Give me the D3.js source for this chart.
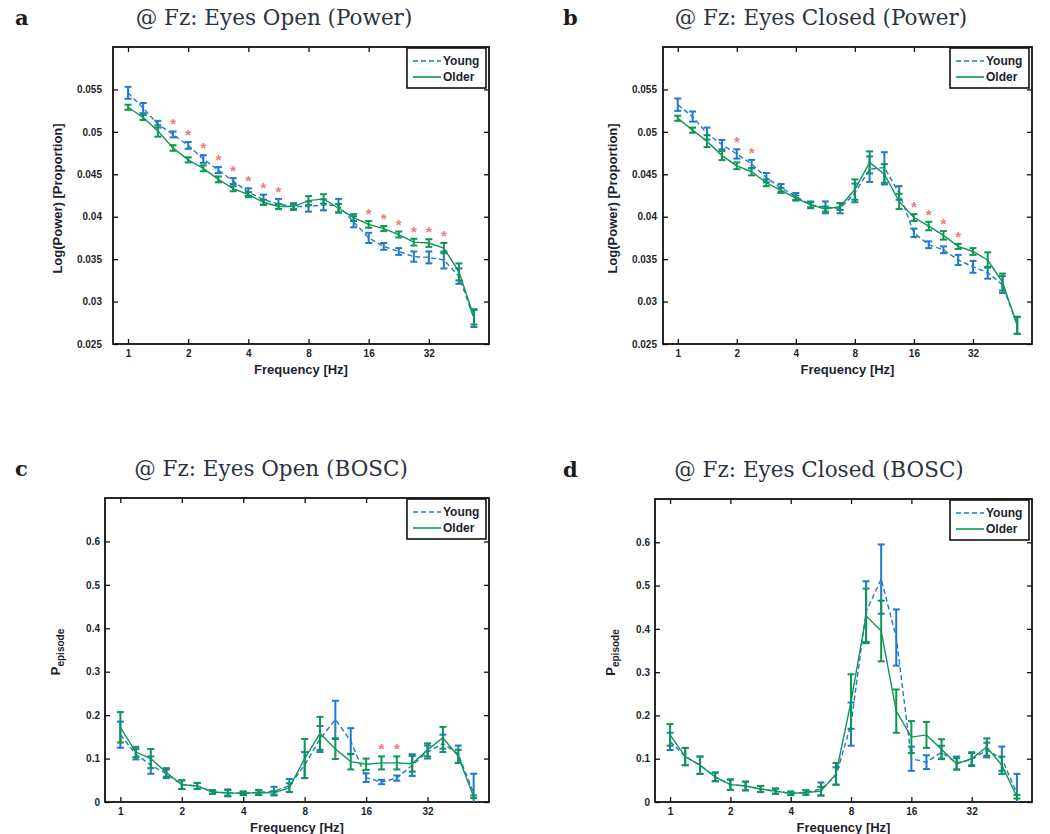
<!DOCTYPE html>
<html><head><meta charset="utf-8">
<script src="https://cdn.jsdelivr.net/npm/d3@7"></script>
<style>body{margin:0;background:#fff}</style>
</head><body><svg id="chart" width="1050" height="834"></svg>
<script>
// ---------- data ----------
const freqs = [1, 1.19, 1.41, 1.68, 2, 2.38, 2.83, 3.36, 4, 4.76, 5.66, 6.73, 8, 9.51, 11.31, 13.45, 16, 19.03, 22.63, 26.91, 32, 38.05, 45.25, 53.82];
const freqTicks = [1, 2, 4, 8, 16, 32];
const freqTickLabels = ["1", "2", "4", "8", "16", "32"];
const powerTicks = [0.025, 0.03, 0.035, 0.04, 0.045, 0.05, 0.055];
const powerTickLabels = ["0.025", "0.03", "0.035", "0.04", "0.045", "0.05", "0.055"];
const boscTicks = [0, 0.1, 0.2, 0.3, 0.4, 0.5, 0.6];
const boscTickLabels = ["0", "0.1", "0.2", "0.3", "0.4", "0.5", "0.6"];
const seriesNames = ["Young", "Older"];

// a: Eyes Open (Power)
const openPowerYoung = [0.0546, 0.0528, 0.0509, 0.0497, 0.0484, 0.0468, 0.0455, 0.0442, 0.0429, 0.0420, 0.0415, 0.0412, 0.0412, 0.0414, 0.0413, 0.0394, 0.0375, 0.0365, 0.0359, 0.0353, 0.0352, 0.0349, 0.0330, 0.0280];
const openPowerYoungErr = [0.0007, 0.0006, 0.0004, 0.00035, 0.0004, 0.00045, 0.00035, 0.00035, 0.00045, 0.0006, 0.0006, 0.0004, 0.0006, 0.00065, 0.0008, 0.00065, 0.0006, 0.0004, 0.0004, 0.0006, 0.0007, 0.001, 0.0009, 0.001];
const openPowerOlder = [0.0529, 0.0517, 0.0501, 0.0481, 0.0467, 0.0457, 0.0444, 0.0433, 0.0426, 0.0417, 0.0412, 0.0412, 0.0419, 0.0421, 0.0410, 0.0399, 0.0391, 0.0386, 0.0379, 0.0370, 0.0369, 0.0363, 0.0335, 0.0282];
const openPowerOlderErr = [0.0003, 0.0003, 0.00067, 0.00033, 0.0003, 0.00035, 0.00035, 0.0003, 0.0003, 0.0003, 0.0003, 0.0003, 0.00053, 0.00055, 0.0005, 0.0004, 0.0004, 0.0003, 0.00035, 0.0004, 0.00045, 0.0006, 0.001, 0.0009];
const openPowerSig = [3, 4, 5, 6, 7, 8, 9, 10, 16, 17, 18, 19, 20, 21];

// b: Eyes Closed (Power)
const closedPowerYoung = [0.0532, 0.0518, 0.0498, 0.0485, 0.0474, 0.0462, 0.0446, 0.0434, 0.0424, 0.0414, 0.0411, 0.0410, 0.0428, 0.0456, 0.0458, 0.0428, 0.0381, 0.0367, 0.0361, 0.0349, 0.0341, 0.0334, 0.0320, 0.0272];
const closedPowerYoungErr = [0.00073, 0.0006, 0.0007, 0.00055, 0.00055, 0.0005, 0.00055, 0.00045, 0.0004, 0.0004, 0.0007, 0.0006, 0.0011, 0.0015, 0.0018, 0.0008, 0.0005, 0.0004, 0.0004, 0.0006, 0.0007, 0.0007, 0.001, 0.001];
const closedPowerOlder = [0.0516, 0.0502, 0.0489, 0.0472, 0.0460, 0.0453, 0.0440, 0.0431, 0.0422, 0.0414, 0.0409, 0.0412, 0.0432, 0.0464, 0.0450, 0.0418, 0.0399, 0.0389, 0.0378, 0.0365, 0.0359, 0.0349, 0.0323, 0.0272];
const closedPowerOlderErr = [0.0003, 0.0003, 0.0007, 0.00053, 0.0004, 0.00043, 0.0004, 0.0003, 0.0003, 0.0003, 0.0003, 0.0004, 0.0012, 0.0013, 0.0012, 0.0009, 0.0004, 0.0005, 0.0005, 0.0003, 0.0004, 0.0009, 0.001, 0.001];
const closedPowerSig = [4, 5, 16, 17, 18, 19];

// c: Eyes Open (BOSC)
const openBoscYoung = [0.155, 0.110, 0.085, 0.065, 0.040, 0.037, 0.023, 0.021, 0.020, 0.022, 0.025, 0.038, 0.085, 0.145, 0.190, 0.140, 0.056, 0.046, 0.055, 0.085, 0.115, 0.135, 0.110, 0.020];
const openBoscYoungErr = [0.03, 0.012, 0.02, 0.01, 0.01, 0.007, 0.004, 0.008, 0.004, 0.006, 0.01, 0.015, 0.03, 0.03, 0.043, 0.03, 0.01, 0.005, 0.006, 0.025, 0.015, 0.02, 0.02, 0.045];
const openBoscOlder = [0.172, 0.115, 0.100, 0.068, 0.040, 0.037, 0.023, 0.021, 0.020, 0.022, 0.021, 0.033, 0.100, 0.158, 0.122, 0.093, 0.087, 0.090, 0.090, 0.088, 0.120, 0.148, 0.105, 0.012];
const openBoscOlderErr = [0.035, 0.012, 0.022, 0.01, 0.01, 0.007, 0.004, 0.006, 0.004, 0.005, 0.004, 0.01, 0.045, 0.038, 0.023, 0.018, 0.013, 0.015, 0.015, 0.018, 0.015, 0.025, 0.015, 0.003];
const openBoscSig = [17, 18];

// d: Eyes Closed (BOSC)
const closedBoscYoung = [0.140, 0.105, 0.085, 0.058, 0.040, 0.037, 0.030, 0.025, 0.020, 0.022, 0.030, 0.060, 0.180, 0.440, 0.515, 0.380, 0.100, 0.092, 0.115, 0.090, 0.098, 0.120, 0.100, 0.020];
const closedBoscYoungErr = [0.02, 0.02, 0.02, 0.01, 0.012, 0.01, 0.007, 0.006, 0.004, 0.005, 0.015, 0.02, 0.05, 0.07, 0.08, 0.065, 0.028, 0.016, 0.015, 0.015, 0.015, 0.017, 0.028, 0.045];
const closedBoscOlder = [0.155, 0.105, 0.085, 0.058, 0.040, 0.037, 0.030, 0.025, 0.020, 0.022, 0.025, 0.065, 0.232, 0.430, 0.395, 0.210, 0.150, 0.155, 0.122, 0.088, 0.100, 0.127, 0.085, 0.012];
const closedBoscOlderErr = [0.025, 0.02, 0.02, 0.01, 0.012, 0.01, 0.007, 0.006, 0.004, 0.005, 0.01, 0.025, 0.063, 0.063, 0.07, 0.05, 0.037, 0.03, 0.023, 0.013, 0.015, 0.02, 0.02, 0.004];
const closedBoscSig = [];

// ---------- layout / style ----------
const colYoung = "#1f78d1";
const colOlder = "#0f9652";
const colSig = "#f37a7a";
const textCol = "#1c1f2e";

const panels = [
  {letter: "a", title: "@ Fz: Eyes Open (Power)", box: [113, 47, 489, 344], titleX: 274, letterX: 15, yDomain: [0.025, 0.06], yTicks: powerTicks, yLabels: powerTickLabels,
   young: openPowerYoung, youngErr: openPowerYoungErr, older: openPowerOlder, olderErr: openPowerOlderErr, sig: openPowerSig, ylab: "power", ylabX: 62, tickGap: 11},
  {letter: "b", title: "@ Fz: Eyes Closed (Power)", box: [663, 47, 1032, 344], titleX: 821, letterX: 563, yDomain: [0.025, 0.06], yTicks: powerTicks, yLabels: powerTickLabels,
   young: closedPowerYoung, youngErr: closedPowerYoungErr, older: closedPowerOlder, olderErr: closedPowerOlderErr, sig: closedPowerSig, ylab: "power", ylabX: 617, tickGap: 6},
  {letter: "c", title: "@ Fz: Eyes Open (BOSC)", box: [105, 498, 489, 802], titleX: 271, letterX: 15, yDomain: [0, 0.7], yTicks: boscTicks, yLabels: boscTickLabels,
   young: openBoscYoung, youngErr: openBoscYoungErr, older: openBoscOlder, olderErr: openBoscOlderErr, sig: openBoscSig, ylab: "bosc", ylabX: 64, tickGap: 5},
  {letter: "d", title: "@ Fz: Eyes Closed (BOSC)", box: [655, 499, 1032, 802], titleX: 819, letterX: 563, yDomain: [0, 0.7], yTicks: boscTicks, yLabels: boscTickLabels,
   young: closedBoscYoung, youngErr: closedBoscYoungErr, older: closedBoscOlder, olderErr: closedBoscOlderErr, sig: closedBoscSig, ylab: "bosc", ylabX: 619, tickGap: 5}
];

const svg = d3.select("#chart");
const sansFont = "'Liberation Sans', Arial, sans-serif";

panels.forEach((p, pi) => {
  const [x0, y0, x1, y1] = p.box;
  const x = d3.scaleLog().base(2).domain([Math.pow(2, -0.25), 64]).range([x0, x1]);
  const y = d3.scaleLinear().domain(p.yDomain).range([y1, y0]);
  const g = svg.append("g");

  // title and letter
  g.append("text").attr("x", p.titleX).attr("y", y0 - 22).attr("text-anchor", "middle")
    .attr("font-family", "'DejaVu Serif', serif").attr("font-size", 21.5).attr("fill", "#2b3340").text(p.title);
  g.append("text").attr("x", p.letterX).attr("y", y0 - 22)
    .attr("font-family", "'DejaVu Serif', serif").attr("font-weight", "bold").attr("font-size", 21).attr("fill", "#1a1a1a").text(p.letter);

  // clip
  const clipId = "clip" + pi;
  svg.append("clipPath").attr("id", clipId).append("rect").attr("x", x0).attr("y", y0).attr("width", x1 - x0).attr("height", y1 - y0);

  // axes
  const axB = g.append("g").attr("transform", `translate(0,${y1})`)
    .call(d3.axisBottom(x).tickValues(freqTicks).tickFormat((d, i) => freqTickLabels[i]).tickSizeInner(-5).tickSizeOuter(0).tickPadding(6));
  const axT = g.append("g").attr("transform", `translate(0,${y0})`)
    .call(d3.axisTop(x).tickValues(freqTicks).tickFormat("").tickSizeInner(-5).tickSizeOuter(0));
  const axL = g.append("g").attr("transform", `translate(${x0},0)`)
    .call(d3.axisLeft(y).tickValues(p.yTicks).tickFormat((d, i) => p.yLabels[i]).tickSizeInner(-5).tickSizeOuter(0).tickPadding(p.tickGap));
  const axR = g.append("g").attr("transform", `translate(${x1},0)`)
    .call(d3.axisRight(y).tickValues(p.yTicks).tickFormat("").tickSizeInner(-5).tickSizeOuter(0));
  [axB, axT, axL, axR].forEach(a => {
    a.select(".domain").remove();
    a.selectAll(".tick line").attr("stroke", "#111").attr("stroke-width", 1.3);
    a.selectAll(".tick text").attr("font-family", sansFont).attr("font-weight", "bold").attr("font-size", 10).attr("fill", textCol);
  });

  // frame
  g.append("rect").attr("x", x0).attr("y", y0).attr("width", x1 - x0).attr("height", y1 - y0)
    .attr("fill", "none").attr("stroke", "#111").attr("stroke-width", 1.8);

  // axis labels
  g.append("text").attr("x", (x0 + x1) / 2).attr("y", y1 + 30).attr("text-anchor", "middle")
    .attr("font-family", sansFont).attr("font-weight", "bold").attr("font-size", 13).attr("fill", textCol).text("Frequency [Hz]");
  const yc = (y0 + y1) / 2;
  if (p.ylab === "power") {
    g.append("text").attr("transform", `translate(${p.ylabX},${yc + 3}) rotate(-90)`).attr("text-anchor", "middle")
      .attr("font-family", sansFont).attr("font-weight", "bold").attr("font-size", 13).attr("fill", textCol).text("Log(Power) [Proportion]");
  } else {
    const t = g.append("text").attr("transform", `translate(${p.ylabX - 4},${yc + 2}) rotate(-90)`).attr("text-anchor", "middle")
      .attr("font-family", sansFont).attr("font-weight", "bold").attr("fill", textCol);
    t.append("tspan").attr("font-size", 13).text("P");
    t.append("tspan").attr("font-size", 10).attr("dy", 4).text("episode");
  }

  // data
  const plot = g.append("g").attr("clip-path", `url(#${clipId})`);
  const series = [
    {vals: p.young, errs: p.youngErr, color: colYoung, dash: "5,3"},
    {vals: p.older, errs: p.olderErr, color: colOlder, dash: null}
  ];
  series.forEach(s => {
    const line = d3.line().x((d, i) => x(freqs[i])).y(d => y(d));
    plot.append("path").datum(s.vals).attr("d", line).attr("fill", "none")
      .attr("stroke", s.color).attr("stroke-width", 1.4).attr("stroke-dasharray", s.dash);
    const eb = plot.append("g").attr("stroke", s.color).attr("stroke-width", 2).attr("fill", "none");
    s.vals.forEach((v, i) => {
      const cx = x(freqs[i]);
      const yt = y(v + s.errs[i]), yb = y(v - s.errs[i]);
      eb.append("line").attr("x1", cx).attr("x2", cx).attr("y1", yt).attr("y2", yb);
      eb.append("line").attr("x1", cx - 3.5).attr("x2", cx + 3.5).attr("y1", yt).attr("y2", yt);
      eb.append("line").attr("x1", cx - 3.5).attr("x2", cx + 3.5).attr("y1", yb).attr("y2", yb);
    });
  });

  // significance markers
  p.sig.forEach(i => {
    const top = Math.max(p.young[i] + p.youngErr[i], p.older[i] + p.olderErr[i]);
    g.append("text").attr("x", x(freqs[i])).attr("y", y(top) - 2).attr("text-anchor", "middle")
      .attr("font-family", sansFont).attr("font-weight", "bold").attr("font-size", 15).attr("fill", colSig).text("*");
  });

  // legend
  const lx0 = x1 - 82, ly0 = y0 + 1, lw = 79, lh = 40;
  const lg = g.append("g");
  lg.append("rect").attr("x", lx0).attr("y", ly0).attr("width", lw).attr("height", lh)
    .attr("fill", "#fff").attr("stroke", "#111").attr("stroke-width", 1.6);
  seriesNames.forEach((name, j) => {
    const ly = ly0 + 13 + j * 16;
    lg.append("line").attr("x1", lx0 + 6).attr("x2", lx0 + 34).attr("y1", ly).attr("y2", ly)
      .attr("stroke", j === 0 ? colYoung : colOlder).attr("stroke-width", 1.6).attr("stroke-dasharray", j === 0 ? "5,3" : null);
    lg.append("text").attr("x", lx0 + 36).attr("y", ly + 4).attr("font-family", sansFont).attr("font-weight", "bold")
      .attr("font-size", 12).attr("fill", textCol).text(name);
  });
});
</script>
</body></html>
